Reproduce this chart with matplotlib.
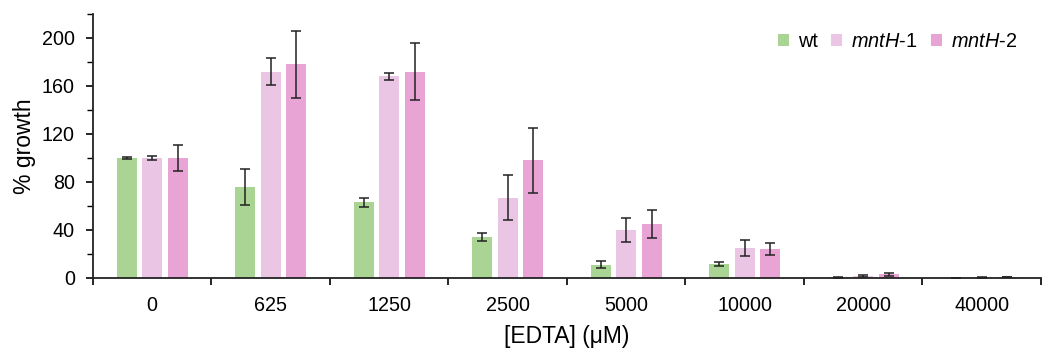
import numpy as np
import matplotlib
matplotlib.use("Agg")
import matplotlib.pyplot as plt
from matplotlib.ticker import MultipleLocator

plt.rcParams['font.family'] = ['Liberation Sans', 'DejaVu Sans']
plt.rcParams['mathtext.fontset'] = 'custom'
plt.rcParams['mathtext.rm'] = 'Liberation Sans'
plt.rcParams['mathtext.it'] = 'Liberation Sans:italic'

categories = ["0", "625", "1250", "2500", "5000", "10000", "20000", "40000"]
series = ["wt", r"$\it{mntH}$-1", r"$\it{mntH}$-2"]
wt = [100, 76, 63, 34, 11, 11.5, 0.5, 0.2]
wt_err = [1, 15, 4, 3.5, 3, 1.5, 0.3, 0.1]
mnth1 = [100, 172, 168, 67, 40, 25, 1.5, 0.4]
mnth1_err = [2, 11, 3, 19, 10, 6.5, 1, 0.1]
mnth2 = [100, 178, 172, 98, 45, 24, 3, 0.5]
mnth2_err = [11, 28, 24, 27, 12, 5, 1.2, 0.1]

colors = ["#aad494", "#eac6e4", "#e9a4d6"]

fig = plt.figure(figsize=(10.44, 3.5), dpi=100)
ax = fig.add_axes([0.089, 0.206, 0.908, 0.754])

x = np.arange(len(categories))
w = 0.17
step = 0.215
for i, (vals, errs) in enumerate([(wt, wt_err), (mnth1, mnth1_err), (mnth2, mnth2_err)]):
    ax.bar(x + (i - 1) * step, vals, w, color=colors[i], label=series[i],
           yerr=errs, capsize=3.5, error_kw=dict(ecolor="#222222", elinewidth=1.1, capthick=1.1))

ax.set_xlim(-0.5, len(categories) - 0.5)
ax.set_ylim(0, 220)
ax.yaxis.set_major_locator(MultipleLocator(40))
ax.yaxis.set_minor_locator(MultipleLocator(20))
ax.set_xticks(x)
ax.set_xticklabels(categories)
ax.set_xticks(np.arange(len(categories) + 1) - 0.5, minor=True)
ax.tick_params(axis='x', which='major', length=0, pad=13, labelsize=14.2)
ax.tick_params(axis='x', which='minor', length=5, width=1.2, direction='out')
ax.tick_params(axis='y', which='major', length=5, width=1.2, labelsize=14.2, pad=8)
ax.tick_params(axis='y', which='minor', length=4, width=1.0)
for s in ["top", "right"]:
    ax.spines[s].set_visible(False)
for s in ["left", "bottom"]:
    ax.spines[s].set_linewidth(1.3)
    ax.spines[s].set_color("#222222")

ax.set_ylabel("% growth", fontsize=16.5, labelpad=4)
ax.set_xlabel("[EDTA] (μM)", fontsize=16.5, labelpad=7)

ax.legend(loc="upper right", bbox_to_anchor=(0.994, 1.0), ncol=3, frameon=False,
          fontsize=14.3, handlelength=0.55, handleheight=0.55, handletextpad=0.45,
          columnspacing=0.7)

fig.savefig("out.png", dpi=100)
